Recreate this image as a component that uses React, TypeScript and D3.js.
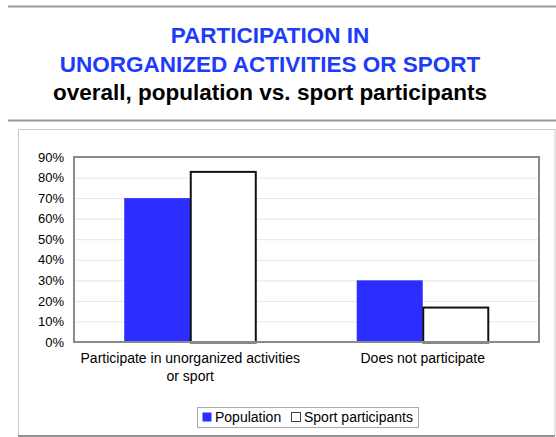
import React, { useEffect, useRef } from "react";
import * as d3 from "d3";

const categories = [
  ["Participate in unorganized activities", "or sport"],
  ["Does not participate"],
];
const seriesNames = ["Population", "Sport participants"];
const population = [70, 30];
const sportParticipants = [83, 17];
const yTicks = [0, 10, 20, 30, 40, 50, 60, 70, 80, 90];

const W = 556;
const H = 437;
const FONT = "'Liberation Sans', Arial, sans-serif";
const BLUE = "#2b2eff";

const App = () => {
  const svgRef = useRef<SVGSVGElement>(null);

  useEffect(() => {
    const svg = d3.select(svgRef.current);
    svg.selectAll("*").remove();

    const margin = { top: 157, right: 17, bottom: 95, left: 74 };

    // header rules
    svg.append("line").attr("x1", 8).attr("x2", W).attr("y1", 6.5).attr("y2", 6.5)
      .attr("stroke", "#999").attr("stroke-width", 2);
    svg.append("line").attr("x1", 8).attr("x2", W).attr("y1", 120.5).attr("y2", 120.5)
      .attr("stroke", "#999").attr("stroke-width", 2);

    // titles
    const titles = [
      { text: "PARTICIPATION IN", y: 43, color: "#1d3bfa" },
      { text: "UNORGANIZED ACTIVITIES OR SPORT", y: 72, color: "#1d3bfa" },
      { text: "overall, population vs. sport participants", y: 100, color: "#000" },
    ];
    svg.selectAll(".title").data(titles).enter().append("text")
      .attr("x", 270).attr("y", (d) => d.y)
      .attr("text-anchor", "middle")
      .attr("font-family", FONT).attr("font-weight", "bold").attr("font-size", 22.5)
      .attr("fill", (d) => d.color)
      .text((d) => d.text);

    // outer chart frame
    svg.append("rect").attr("x", 18.5).attr("y", 129.5).attr("width", W - 19.5).attr("height", 306)
      .attr("fill", "#fff").attr("stroke", "#c8c8c8").attr("stroke-width", 1);
    svg.append("line").attr("x1", 18).attr("x2", W - 1).attr("y1", 436).attr("y2", 436)
      .attr("stroke", "#777").attr("stroke-width", 1.5);

    const x0 = d3.scaleBand<number>()
      .domain(categories.map((_, i) => i))
      .range([margin.left, W - margin.right])
      .paddingInner(0.432)
      .paddingOuter(0.216);
    const x1 = d3.scaleBand<number>().domain([0, 1]).range([0, x0.bandwidth()]);
    const y = d3.scaleLinear().domain([0, 90]).range([H - margin.bottom, margin.top]);

    // gridlines
    svg.append("g")
      .attr("transform", `translate(${margin.left},0)`)
      .call(d3.axisLeft(y).tickValues(yTicks.slice(1)).tickSize(-(W - margin.left - margin.right)).tickFormat(() => ""))
      .call((g) => g.select(".domain").remove())
      .call((g) => g.selectAll("line").attr("stroke", "#e6e6e6"));

    // y tick labels
    svg.append("g")
      .attr("transform", `translate(${margin.left},0)`)
      .call(d3.axisLeft(y).tickValues(yTicks).tickSize(0).tickPadding(10).tickFormat((d) => `${d}%`))
      .call((g) => g.select(".domain").remove())
      .call((g) => g.selectAll("text").attr("font-family", FONT).attr("font-size", 13).attr("fill", "#000"));

    const groups = categories.map((_, i) => [population[i], sportParticipants[i]]);
    const g = svg.append("g");
    groups.forEach((vals, i) => {
      vals.forEach((v, s) => {
        g.append("rect")
          .attr("x", x0(i)! + x1(s)! + (s === 1 ? 0.5 : 0))
          .attr("y", y(v) + (s === 1 ? 0.5 : 0))
          .attr("width", x1.bandwidth() - (s === 1 ? 1 : 0))
          .attr("height", y(0) - y(v))
          .attr("fill", s === 0 ? BLUE : "#fff")
          .attr("stroke", s === 0 ? "none" : "#111")
          .attr("stroke-width", s === 0 ? 0 : 2);
      });
    });

    // plot border
    svg.append("rect")
      .attr("x", margin.left).attr("y", margin.top)
      .attr("width", W - margin.left - margin.right)
      .attr("height", H - margin.top - margin.bottom)
      .attr("fill", "none").attr("stroke", "#8a8a8a").attr("stroke-width", 2);

    // category labels
    categories.forEach((lines, i) => {
      const cx = x0(i)! + x0.bandwidth() / 2;
      lines.forEach((ln, k) => {
        svg.append("text")
          .attr("x", cx).attr("y", H - margin.bottom + 21 + k * 18)
          .attr("text-anchor", "middle")
          .attr("font-family", FONT).attr("font-size", 14)
          .text(ln);
      });
    });

    // legend
    const lg = svg.append("g");
    lg.append("rect").attr("x", 197.5).attr("y", 407.5).attr("width", 221).attr("height", 20)
      .attr("fill", "#fff").attr("stroke", "#aaa");
    const items = [
      { name: seriesNames[0], x: 202, fill: BLUE, stroke: "none" },
      { name: seriesNames[1], x: 291, fill: "#fff", stroke: "#444" },
    ];
    items.forEach((it) => {
      lg.append("rect").attr("x", it.x + 0.5).attr("y", 412.5).attr("width", 9).attr("height", 9)
        .attr("fill", it.fill).attr("stroke", it.stroke);
      lg.append("text").attr("x", it.x + 13).attr("y", 422)
        .attr("font-family", FONT).attr("font-size", 14).text(it.name);
    });
  }, []);

  return (
    <svg ref={svgRef} width={W} height={H}
      style={{ position: "absolute", left: 0, top: 0, background: "#fff" }} />
  );
};

export default App;
